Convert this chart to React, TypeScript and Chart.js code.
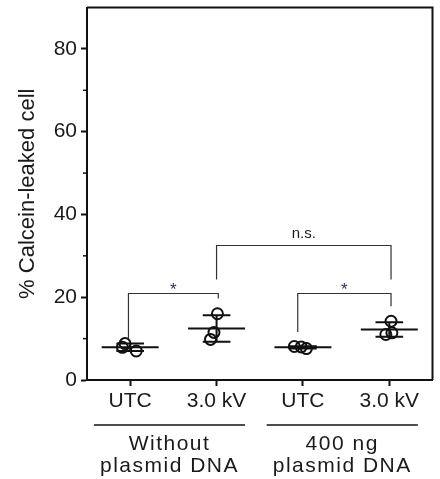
import React, { useEffect, useRef } from "react";
import { Chart, registerables } from "chart.js";

Chart.register(...registerables);

// Treatment conditions along the x axis
const categories = ["UTC", "3.0 kV", "UTC", "3.0 kV"];
// Plasmid condition groups, each spanning two treatments
const groupLabels = [
  ["Without", "plasmid DNA"],
  ["400 ng", "plasmid DNA"],
];
// % calcein-leaked cells for each biological replicate
const replicates = [
  [8.8, 7.0, 7.9],
  [16.0, 11.5, 9.8],
  [8.1, 8.0, 7.6],
  [14.2, 11.0, 11.4],
];
// Horizontal jitter of the replicate dots (category units)
const jitter = [
  [-0.06, 0.07, -0.09],
  [0.01, -0.03, -0.07],
  [-0.1, -0.02, 0.04],
  [0.02, -0.04, 0.03],
];
const yTicks = [0, 20, 40, 60, 80];
const yMinorTicks = [10, 30, 50, 70];
// Significance brackets: x ends, bar height, leg ends, annotation
const bracketFrom = [-0.02, 1.0, 1.94];
const bracketTo = [1.02, 3.02, 3.02];
const bracketLevel = [20.9, 32.5, 20.9];
const bracketFromEnd = [9.9, 24.3, 11.6];
const bracketToEnd = [19.7, 24.3, 17.8];
const bracketText = ["*", "n.s.", "*"];

const FONT = "'Liberation Sans', Arial, Helvetica, sans-serif";
const INK = "#1a1a1a";

const mean = (v: number[]) => v.reduce((a, b) => a + b, 0) / v.length;
const sd = (v: number[]) => {
  const m = mean(v);
  return Math.sqrt(v.reduce((a, b) => a + (b - m) * (b - m), 0) / (v.length - 1));
};

const decorations = {
  id: "decorations",
  afterDatasetsDraw(chart: any) {
    const { ctx, chartArea, scales } = chart;
    const xs = scales.x;
    const ys = scales.y;
    ctx.save();

    // frame on top and right
    ctx.strokeStyle = "#111";
    ctx.lineWidth = 2;
    ctx.beginPath();
    ctx.moveTo(chartArea.left, chartArea.top);
    ctx.lineTo(chartArea.right, chartArea.top);
    ctx.lineTo(chartArea.right, chartArea.bottom);
    ctx.stroke();

    // minor y ticks
    ctx.lineWidth = 1.5;
    yMinorTicks.forEach((v) => {
      const y = ys.getPixelForValue(v);
      ctx.beginPath();
      ctx.moveTo(chartArea.left - 4, y);
      ctx.lineTo(chartArea.left, y);
      ctx.stroke();
    });

    // mean and SD bars
    ctx.strokeStyle = "#111";
    ctx.lineWidth = 2;
    replicates.forEach((vals, i) => {
      const m = mean(vals);
      const s = sd(vals);
      const ym = ys.getPixelForValue(m);
      const yHi = ys.getPixelForValue(m + s);
      const yLo = ys.getPixelForValue(m - s);
      ctx.beginPath();
      ctx.moveTo(xs.getPixelForValue(i - 0.33), ym);
      ctx.lineTo(xs.getPixelForValue(i + 0.33), ym);
      ctx.moveTo(xs.getPixelForValue(i - 0.16), yHi);
      ctx.lineTo(xs.getPixelForValue(i + 0.16), yHi);
      ctx.moveTo(xs.getPixelForValue(i - 0.16), yLo);
      ctx.lineTo(xs.getPixelForValue(i + 0.16), yLo);
      ctx.moveTo(xs.getPixelForValue(i), yHi);
      ctx.lineTo(xs.getPixelForValue(i), yLo);
      ctx.stroke();
    });

    // significance brackets
    ctx.strokeStyle = "#333";
    ctx.lineWidth = 1.2;
    bracketText.forEach((t, k) => {
      const x1 = xs.getPixelForValue(bracketFrom[k]);
      const x2 = xs.getPixelForValue(bracketTo[k]);
      const yl = ys.getPixelForValue(bracketLevel[k]);
      ctx.beginPath();
      ctx.moveTo(x1, ys.getPixelForValue(bracketFromEnd[k]));
      ctx.lineTo(x1, yl);
      ctx.lineTo(x2, yl);
      ctx.lineTo(x2, ys.getPixelForValue(bracketToEnd[k]));
      ctx.stroke();
      ctx.textAlign = "center";
      ctx.textBaseline = "alphabetic";
      if (t === "*") {
        ctx.fillStyle = "#2a3550";
        ctx.font = `17px ${FONT}`;
        ctx.fillText(t, (x1 + x2) / 2, yl + 2);
      } else {
        ctx.fillStyle = INK;
        ctx.font = `15px ${FONT}`;
        ctx.fillText(t, (x1 + x2) / 2, yl - 7);
      }
    });

    // y axis title
    ctx.fillStyle = INK;
    ctx.font = `22px ${FONT}`;
    ctx.textAlign = "center";
    ctx.textBaseline = "middle";
    ctx.save();
    ctx.translate(28, (chartArea.top + chartArea.bottom) / 2);
    ctx.rotate(-Math.PI / 2);
    ctx.fillText("% Calcein-leaked cell", 0, 0);
    ctx.restore();

    // group labels under the treatment labels
    groupLabels.forEach((lines, g) => {
      const x1 = xs.getPixelForValue(g * 2 - 0.42);
      const x2 = xs.getPixelForValue(g * 2 + 1.33);
      const yLine = chartArea.bottom + 45;
      ctx.strokeStyle = "#111";
      ctx.lineWidth = 1.5;
      ctx.beginPath();
      ctx.moveTo(x1, yLine);
      ctx.lineTo(x2, yLine);
      ctx.stroke();
      ctx.fillStyle = INK;
      ctx.font = `21px ${FONT}`;
      (ctx as any).letterSpacing = "1.5px";
      ctx.textAlign = "center";
      ctx.textBaseline = "middle";
      lines.forEach((ln, j) => {
        ctx.fillText(ln, (x1 + x2) / 2, yLine + 19 + j * 22);
      });
      (ctx as any).letterSpacing = "0px";
    });

    ctx.restore();
  },
};

export default function App() {
  const canvasRef = useRef<HTMLCanvasElement>(null);

  useEffect(() => {
    if (!canvasRef.current) return;
    const points = replicates.flatMap((vals, i) =>
      vals.map((v, j) => ({ x: i + jitter[i][j], y: v }))
    );
    const chart = new Chart(canvasRef.current, {
      type: "scatter",
      data: {
        datasets: [
          {
            data: points,
            pointStyle: "circle",
            pointRadius: 5.5,
            pointHoverRadius: 5.5,
            pointBorderWidth: 2,
            borderColor: "#111",
            backgroundColor: "rgba(0,0,0,0)",
          },
        ],
      },
      options: {
        responsive: false,
        animation: false,
        events: [],
        layout: { padding: { top: 6, right: 4, bottom: 0, left: 0 } },
        plugins: {
          legend: { display: false },
          tooltip: { enabled: false },
        },
        scales: {
          x: {
            type: "linear",
            min: -0.5,
            max: 3.5,
            afterBuildTicks: (s: any) => {
              s.ticks = categories.map((_, i) => ({ value: i }));
            },
            afterFit: (s: any) => {
              s.height = 99;
              s.paddingLeft = 0;
              s.paddingRight = 0;
            },
            ticks: {
              callback: (v: any) => categories[v] ?? "",
              font: { family: FONT, size: 21 },
              color: INK,
              padding: 3,
              maxRotation: 0,
              autoSkip: false,
            },
            grid: {
              drawOnChartArea: false,
              drawTicks: true,
              tickLength: 6,
              tickColor: "#111",
              tickWidth: 2,
            },
            border: { display: true, color: "#111", width: 2 },
          },
          y: {
            min: 0,
            max: 90,
            afterBuildTicks: (s: any) => {
              s.ticks = yTicks.map((v) => ({ value: v }));
            },
            afterFit: (s: any) => {
              s.width = 87;
              s.paddingTop = 0;
              s.paddingBottom = 0;
            },
            ticks: {
              font: { family: FONT, size: 21 },
              color: INK,
              padding: 4,
            },
            grid: {
              drawOnChartArea: false,
              drawTicks: true,
              tickLength: 6,
              tickColor: "#111",
              tickWidth: 2,
            },
            border: { display: true, color: "#111", width: 2 },
          },
        },
      },
      plugins: [decorations],
    });
    return () => chart.destroy();
  }, []);

  return (
    <div style={{ position: "fixed", left: 0, top: 0, width: 440, height: 479, background: "#fff" }}>
      <canvas ref={canvasRef} width={440} height={479} />
    </div>
  );
}
